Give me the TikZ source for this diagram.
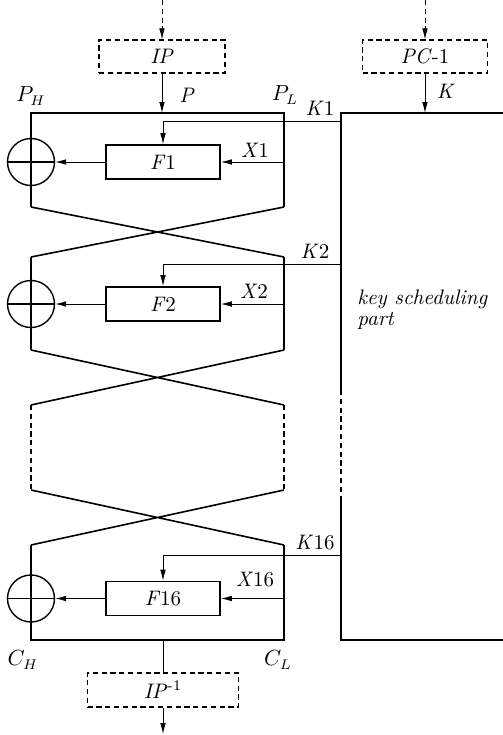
\documentclass[tikz,border=0pt]{standalone}
\usetikzlibrary{arrows.meta}
\begin{document}
\begin{tikzpicture}[x=0.5pt,y=-0.5pt,
  every node/.style={font=\fontsize{10.5}{12}\selectfont},
  thickline/.style={line width=0.8pt},
  thinline/.style={line width=0.45pt},
  arr/.style={-{Latex[length=5.5pt,width=2.8pt]}},
  dbox/.style={draw, dash pattern=on 2.6pt off 1.8pt, line width=0.55pt, inner sep=0pt},
  fbox/.style={draw, line width=0.8pt, minimum width=57pt, minimum height=17pt, inner sep=0pt},
  xorc/.style={draw, circle, line width=0.7pt, minimum size=23.5pt, inner sep=0pt},
  lbl/.style={inner sep=0pt},
  dashedline/.style={dash pattern=on 2.6pt off 1.8pt, line width=0.55pt},
]
\useasboundingbox (0,0) rectangle (503,735);

% input / output permutation boxes
\node[dbox, minimum width=63pt, minimum height=16.5pt] (ip) at (162,56.5) {\textit{IP}};
\node[dbox, minimum width=62.5pt, minimum height=16.5pt] (pc) at (425,56.5) {\textit{PC}-1};
\node[dbox, minimum width=75.5pt, minimum height=17pt] (ipi) at (163,690) {\textit{IP}\textsuperscript{-1}};

\coordinate (ipin) at (162,0);
\coordinate (pcin) at (425,0);
\coordinate (ptop) at (162,113);
\coordinate (ktop) at (425,113);
\coordinate (cbot) at (163,640);
\coordinate (ipout) at (163,734);

% F boxes
\node[fbox] (f1) at (163,162) {\textit{F}1};
\node[fbox] (f2) at (163,304) {\textit{F}2};
\node[fbox] (f16) at (163,598.5) {\textit{F}16};

% XOR circles
\node[xorc] (x1) at (31,162) {};
\node[xorc] (x2) at (31,304) {};
\node[xorc] (x16) at (31,598.5) {};
\foreach \c in {x1,x2,x16} \draw[line width=0.7pt] (\c.west) -- (\c.east);

% round structure
\coordinate (a1) at (31,113);   \coordinate (b1) at (284,113);
\coordinate (a1b) at (31,207);  \coordinate (b1b) at (284,207);
\coordinate (a2) at (31,257);   \coordinate (b2) at (284,257);
\coordinate (a2b) at (31,350);  \coordinate (b2b) at (284,350);
\coordinate (a3) at (31,405);   \coordinate (b3) at (284,405);
\coordinate (a3b) at (31,490);  \coordinate (b3b) at (284,490);
\coordinate (a16) at (31,545);  \coordinate (b16) at (284,545);
\coordinate (a16b) at (31,640); \coordinate (b16b) at (284,640);

\draw[thickline] (a1b) -- (a1) -- (b1) -- (b1b);
\draw[thickline] (a1b) -- (b2) (b1b) -- (a2);
\draw[thickline] (a2) -- (a2b) (b2) -- (b2b);
\draw[thickline] (a2b) -- (b3) (b2b) -- (a3);
\draw[dashedline] (a3) -- (a3b) (b3) -- (b3b);
\draw[thickline] (a3b) -- (b16) (b3b) -- (a16);
\draw[thickline] (a16) -- (a16b) -- (b16b) -- (b16);

% key scheduling box
\coordinate (k1) at (341,113);  \coordinate (k1r) at (504,113);
\coordinate (kd1) at (341,390); \coordinate (kd2) at (341,500);
\coordinate (k2) at (341,640);  \coordinate (k2r) at (504,640);
\draw[thickline] (k1r) -- (k1) -- (kd1);
\draw[dashedline] (kd1) -- (kd2);
\draw[thickline] (kd2) -- (k2) -- (k2r);

% inputs
\draw[dashedline, line width=0.45pt, arr] (ipin) -- (ip.north);
\draw[dashedline, line width=0.45pt, arr] (pcin) -- (pc.north);
\draw[thinline, arr] (ip.south) -- (ptop);
\draw[thinline, arr] (pc.south) -- (ktop);
\draw[thinline] (cbot) -- (ipi.north);
\draw[thinline, arr] (ipi.south) -- (ipout);

% subkeys
\coordinate (kin1) at (341,121);
\coordinate (kin2) at (341,264);
\coordinate (kin16) at (341,555);
\draw[thinline, arr] (kin1) -| (f1.north);
\draw[thinline, arr] (kin2) -| (f2.north);
\draw[thinline, arr] (kin16) -| (f16.north);

% right half inputs
\coordinate (r1) at (284,162);
\coordinate (r2) at (284,304);
\coordinate (r16) at (284,598.5);
\draw[thinline, arr] (r1) -- (f1.east);
\draw[thinline, arr] (r2) -- (f2.east);
\draw[thinline, arr] (r16) -- (f16.east);

% F outputs to XOR
\draw[thinline, arr] (f1.west) -- (x1.east);
\draw[thinline, arr] (f2.west) -- (x2.east);
\draw[thinline, arr] (f16.west) -- (x16.east);

% labels
\node[lbl] (lp) at (187,95) {\textit{P}};
\node[lbl] (lph) at (31,96) {$P_H$};
\node[lbl] (lpl) at (285,95) {$P_L$};
\node[lbl] (lk) at (446,91) {\textit{K}};
\node[lbl] (lk1) at (320,108) {\textit{K}1};
\node[lbl] (lx1) at (255,150) {\textit{X}1};
\node[lbl] (lk2) at (315,251) {\textit{K}2};
\node[lbl] (lx2) at (254,291) {\textit{X}2};
\node[lbl] (lk16) at (315,543) {\textit{K}16};
\node[lbl] (lx16) at (255,580) {\textit{X}16};
\node[lbl] (lch) at (23,660) {$C_H$};
\node[lbl] (lcl) at (278,660) {$C_L$};
\node[lbl, anchor=base west] (ks1) at (357,304) {\textit{key scheduling}};
\node[lbl, anchor=base west] (ks2) at (357,325) {\textit{part}};
\end{tikzpicture}
\end{document}
